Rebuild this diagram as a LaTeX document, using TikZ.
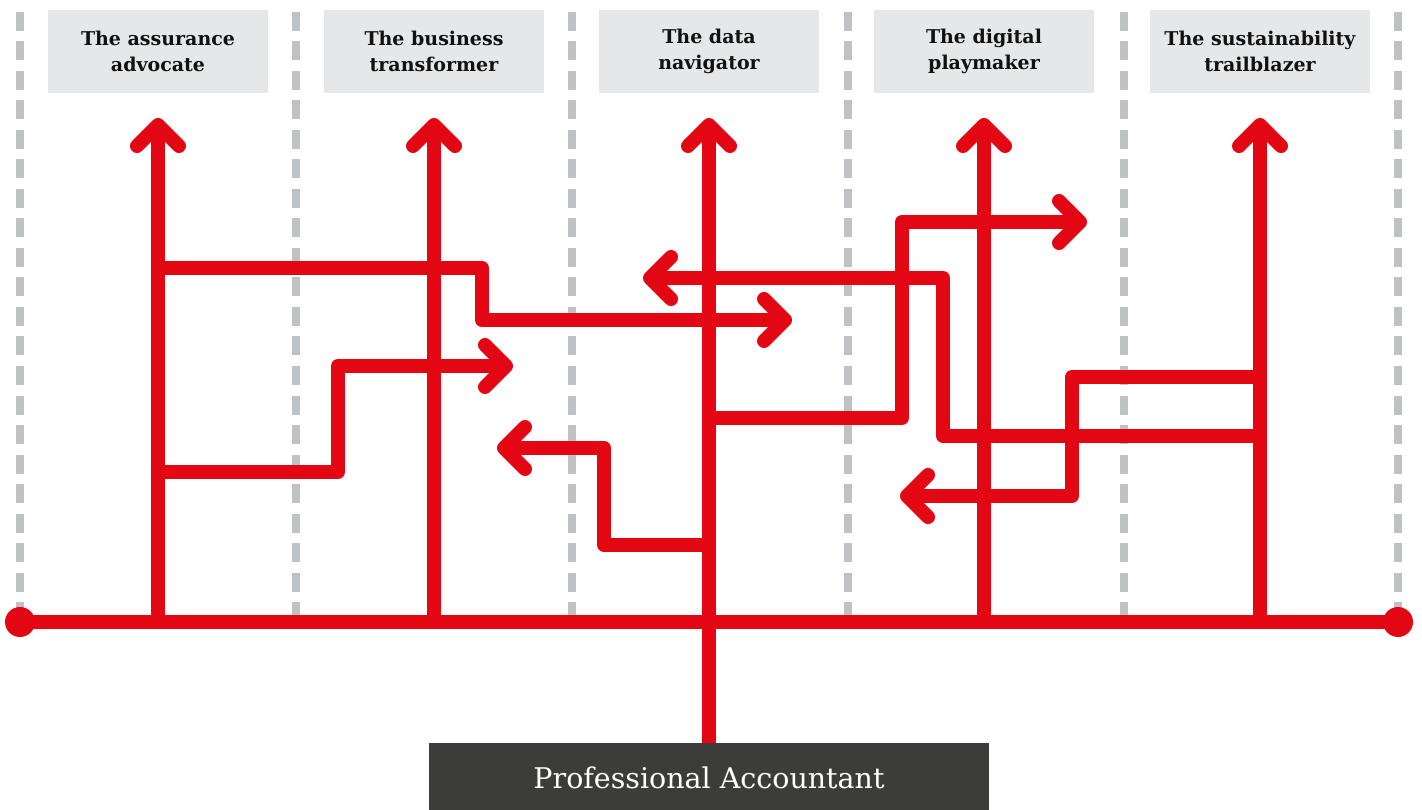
\documentclass[tikz,border=0pt]{standalone}
\usepackage{fontspec}
\setmainfont{DejaVu Serif}
\definecolor{acred}{HTML}{E30613}
\definecolor{dashgray}{HTML}{BFC2C5}
\definecolor{boxgray}{HTML}{E6E7E8}
\definecolor{darkbox}{HTML}{3C3C3B}
\definecolor{labeltext}{HTML}{111111}
\tikzset{
  redline/.style={draw=acred, line width=14pt, line cap=round, line join=round},
  railline/.style={draw=acred, line width=14pt, line cap=butt, line join=round},
  divider/.style={draw=dashgray, line width=7.5pt, dash pattern=on 19pt off 10.5pt},
  rolebox/.style={fill=boxgray, minimum width=220pt, minimum height=83pt, inner sep=0pt,
     align=center, text=labeltext, font=\bfseries\fontsize{19}{26}\selectfont},
  basebox/.style={fill=darkbox, minimum width=560pt, minimum height=70pt, inner sep=0pt,
     text=white, font=\fontsize{28.5}{32}\selectfont},
  enddot/.style={circle, fill=acred, minimum size=30pt, inner sep=0pt}
}
\newcommand\mkUp[1]{\draw[redline] ([shift={(-21,21)}]#1) -- (#1) -- ([shift={(21,21)}]#1);}
\newcommand\mkRt[1]{\draw[redline] ([shift={(-21,-21)}]#1) -- (#1) -- ([shift={(-21,21)}]#1);}
\newcommand\mkLt[1]{\draw[redline] ([shift={(21,-21)}]#1) -- (#1) -- ([shift={(21,21)}]#1);}
\begin{document}
\begin{tikzpicture}[x=1pt,y=-1pt]
\useasboundingbox (0,0) rectangle (1422,810);

% dashed dividers
\foreach \i/\xx in {1/20,2/296,3/572,4/848,5/1124,6/1398}{
  \coordinate (dt\i) at (\xx,12);
  \coordinate (db\i) at (\xx,616);
  \draw[divider] (dt\i) -- (db\i);
}

% role boxes
\node[rolebox] (r1) at (158,51.5) {The assurance\\advocate};
\node[rolebox] (r2) at (434,51.5) {The business\\transformer};
\node[rolebox] (r3) at (709,51.5) {The data\\navigator};
\node[rolebox] (r4) at (984,51.5) {The digital\\playmaker};
\node[rolebox] (r5) at (1260,51.5) {The sustainability\\trailblazer};

% base box
\node[basebox, anchor=north] (pa) at (709,743) {Professional Accountant};

% main horizontal line with dots
\node[enddot] (eL) at (20,622) {};
\node[enddot] (eR) at (1398,622) {};
\draw[railline] (eL.center) -- (eR.center);

% rails
\foreach \i/\xx in {1/158,2/434,3/709,4/984,5/1260}{
  \coordinate (b\i) at (\xx,622);
  \coordinate (t\i) at (\xx,125);
}
\foreach \i in {1,2,4,5}{
  \draw[railline] ([yshift=6pt]b\i) -- (t\i);
  \mkUp{t\i}
}
\draw[railline] (pa.north) -- (t3);
\mkUp{t3}

% branch 1
\coordinate (s1) at (158,268);
\coordinate (e1) at (785,320);
\draw[redline, line cap=butt] (s1) -- (482,268) -- (482,320) -- (e1);
\mkRt{e1}

% branch 2
\coordinate (s2) at (158,472);
\coordinate (e2) at (506,366);
\draw[redline, line cap=butt] (s2) -- (338,472) -- (338,366) -- (e2);
\mkRt{e2}

% branch 3
\coordinate (s3) at (709,545);
\coordinate (e3) at (504,448);
\draw[redline, line cap=butt] (s3) -- (604,545) -- (604,448) -- (e3);
\mkLt{e3}

% branch 4
\coordinate (s4) at (709,418);
\coordinate (e4) at (1080,222);
\draw[redline, line cap=butt] (s4) -- (902,418) -- (902,222) -- (e4);
\mkRt{e4}

% branch 5
\coordinate (s5) at (1260,436);
\coordinate (e5) at (650,278);
\draw[redline, line cap=butt] (s5) -- (943,436) -- (943,278) -- (e5);
\mkLt{e5}

% branch 6
\coordinate (s6) at (1260,377);
\coordinate (e6) at (907,496);
\draw[redline, line cap=butt] (s6) -- (1072,377) -- (1072,496) -- (e6);
\mkLt{e6}
\end{tikzpicture}
\end{document}
